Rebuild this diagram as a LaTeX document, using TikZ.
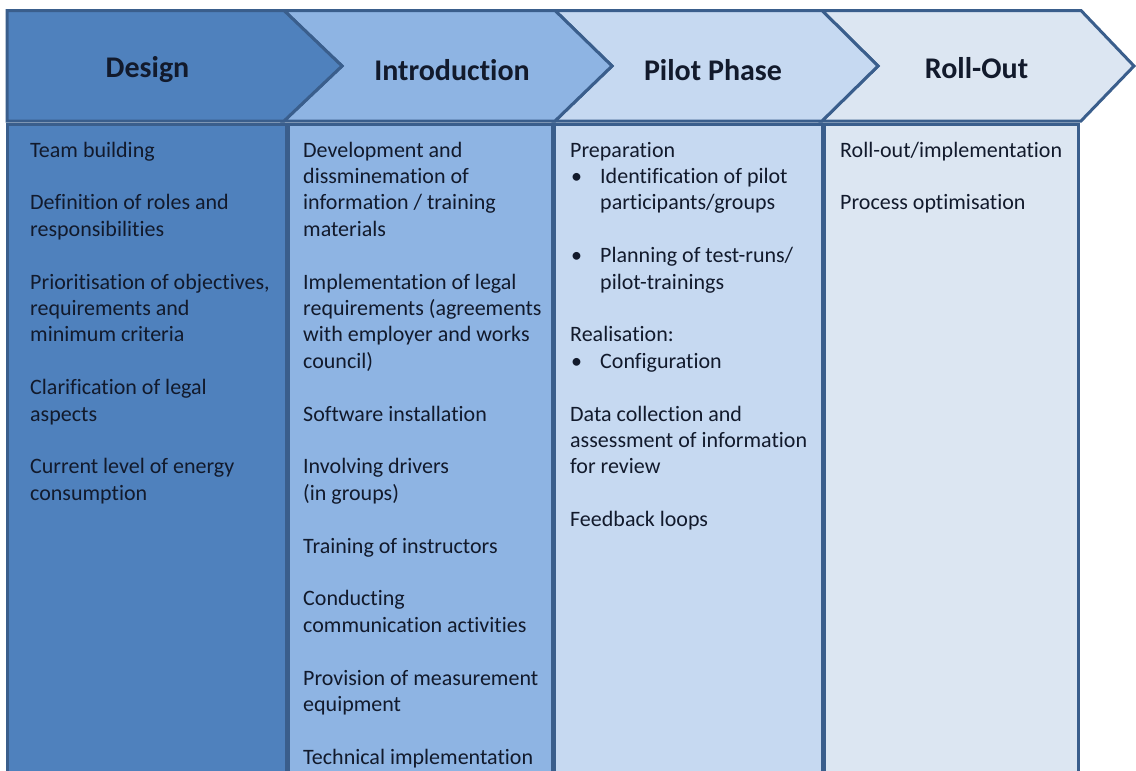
\documentclass[tikz,border=0pt]{standalone}
\usepackage{fontspec}
\setmainfont{Carlito}[Ligatures=NoCommon]
\definecolor{bordc}{HTML}{3A5E8C}
\definecolor{desc}{HTML}{4F81BD}
\definecolor{intc}{HTML}{8EB4E3}
\definecolor{pilc}{HTML}{C6D9F1}
\definecolor{rolc}{HTML}{DCE6F2}
\definecolor{txtc}{HTML}{121A2C}
\begin{document}
\begin{tikzpicture}[x=1pt,y=-1pt,
  hdr/.style={draw=bordc, line width=3pt, line join=miter},
  colbox/.style={draw=bordc, line width=3pt},
  htxt/.style={font=\fontsize{30}{36}\selectfont\bfseries, text=txtc, anchor=base, inner sep=0pt},
  btxt/.style={font=\fontsize{22}{26.4}\selectfont, text=txtc, align=left, anchor=north west, inner sep=0pt}]
\useasboundingbox (0,0) rectangle (1136,771);
\fill[white] (0,0) rectangle (1136,771);
\clip (0,0) rectangle (1136,771);
% column bodies
\draw[colbox, fill=desc] (7,124.5) rectangle (286,800);
\draw[colbox, fill=intc] (288,124.5) rectangle (552,800);
\draw[colbox, fill=pilc] (554,124.5) rectangle (822,800);
\draw[colbox, fill=rolc] (824,124.5) rectangle (1078,800);
% header chevrons
\draw[hdr, fill=rolc] (822,10.5) -- (1081,10.5) -- (1134,66) -- (1081,121) -- (822,121) -- (878,66) -- cycle;
\draw[hdr, fill=pilc] (555,10.5) -- (822,10.5) -- (878,66) -- (822,121) -- (555,121) -- (612,66) -- cycle;
\draw[hdr, fill=intc] (284,10.5) -- (555,10.5) -- (612,66) -- (555,121) -- (284,121) -- (342,66) -- cycle;
\draw[hdr, fill=desc] (7,10.5) -- (284,10.5) -- (342,66) -- (284,121) -- (7,121) -- cycle;
% headings
\node[htxt] (hd) at (147.5,77) {Design};
\node[htxt] (hi) at (452,80) {Introduction};
\node[htxt] (hp) at (713,80) {Pilot Phase};
\node[htxt] (hr) at (976.5,78) {Roll-Out};
% body texts
\node[btxt] (bd) at (30,138.5) {\strut Team building\\[26.4pt]
Definition of roles and\\
responsibilities\\[26.4pt]
Prioritisation of objectives,\\
requirements and\\
minimum criteria\\[26.4pt]
Clarification of legal\\
aspects\\[26.4pt]
Current level of energy\\
consumption};
\node[btxt] (bi) at (303,138.5) {\strut Development and\\
dissminemation of\\
information / training\\
materials\\[26.4pt]
Implementation of legal\\
requirements (agreements\\
with employer and works\\
council)\\[26.4pt]
Software installation\\[26.4pt]
Involving drivers\\
(in groups)\\[26.4pt]
Training of instructors\\[26.4pt]
Conducting\\
communication activities\\[26.4pt]
Provision of measurement\\
equipment\\[26.4pt]
Technical implementation};
\node[btxt] (bp) at (570,138.5) {\strut Preparation\\
\makebox[30pt][l]{\hspace*{1pt}•}Identification of pilot\\
\hspace*{30pt}participants/groups\\[26.4pt]
\makebox[30pt][l]{\hspace*{1pt}•}Planning of test-runs/\\
\hspace*{30pt}pilot-trainings\\[26.4pt]
Realisation:\\
\makebox[30pt][l]{\hspace*{1pt}•}Configuration\\[26.4pt]
Data collection and\\
assessment of information\\
for review\\[26.4pt]
Feedback loops};
\node[btxt] (br) at (840,138.5) {\strut Roll-out/implementation\\[26.4pt]
Process optimisation};
\end{tikzpicture}
\end{document}
